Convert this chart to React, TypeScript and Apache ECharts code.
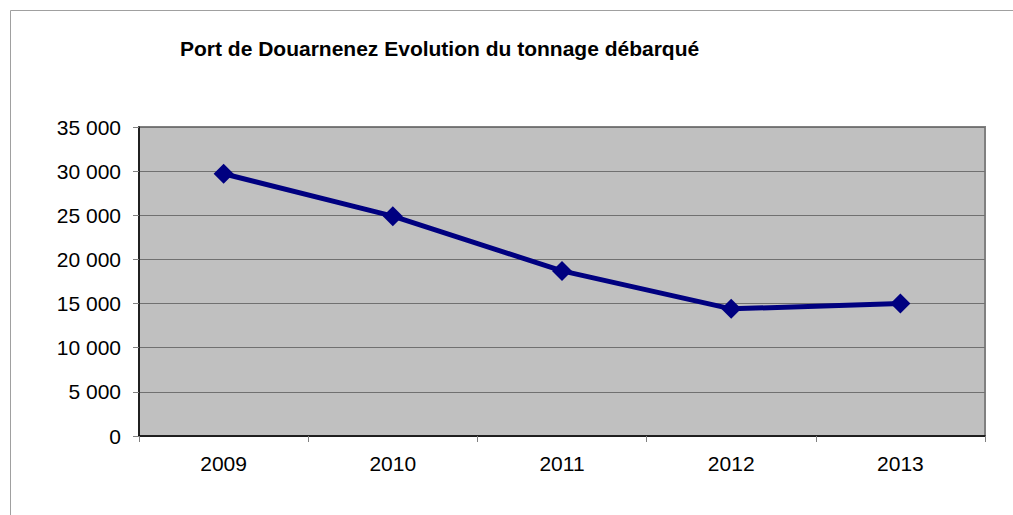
import React, { useEffect, useRef } from "react";
import * as echarts from "echarts";

const categories = ["2009", "2010", "2011", "2012", "2013"];
const tonnage = [29700, 24900, 18700, 14400, 15000];
const titleText = "Port de Douarnenez Evolution du tonnage débarqué";

const fmt = (v: number) => {
  if (v === 0) return "0";
  const s = String(v);
  return s.slice(0, s.length - 3) + " " + s.slice(s.length - 3);
};

export default function App() {
  const ref = useRef<HTMLDivElement>(null);
  useEffect(() => {
    if (!ref.current) return;
    const chart = echarts.init(ref.current, undefined, { renderer: "svg" });
    chart.setOption({
      animation: false,
      backgroundColor: "#ffffff",
      textStyle: { fontFamily: "Liberation Sans, Arial, sans-serif" },
      title: {
        text: titleText,
        left: 180,
        top: 38,
        padding: 0,
        textStyle: { fontSize: 21, fontWeight: "bold", color: "#000", fontFamily: "Liberation Sans, Arial, sans-serif" },
      },
      graphic: [
        { type: "line", shape: { x1: 10.5, y1: 10.5, x2: 1013, y2: 10.5 }, style: { stroke: "#a0a0a0", lineWidth: 1 } },
        { type: "line", shape: { x1: 10.5, y1: 10.5, x2: 10.5, y2: 515 }, style: { stroke: "#a0a0a0", lineWidth: 1 } },
      ],
      grid: {
        left: 139,
        top: 127,
        width: 846,
        height: 309,
        show: true,
        backgroundColor: "#c0c0c0",
        borderColor: "#808080",
        borderWidth: 2,
      },
      xAxis: {
        type: "category",
        data: categories,
        boundaryGap: true,
        axisLine: { lineStyle: { color: "#000", width: 1.5 } },
        axisTick: { show: true, length: 6, lineStyle: { color: "#808080" } },
        axisLabel: { fontSize: 21, color: "#000", margin: 17 },
      },
      yAxis: {
        type: "value",
        min: 0,
        max: 35000,
        interval: 5000,
        axisLine: { show: true, lineStyle: { color: "#000", width: 1.5 } },
        axisTick: { show: true, length: 6, lineStyle: { color: "#808080" } },
        axisLabel: { fontSize: 21, color: "#000", margin: 18, formatter: fmt },
        splitLine: { show: true, lineStyle: { color: "#707070", width: 1 } },
      },
      series: [
        {
          type: "line",
          data: tonnage,
          symbol: "diamond",
          symbolSize: 20,
          lineStyle: { color: "#000080", width: 5 },
          itemStyle: { color: "#000080" },
        },
      ],
    });
    return () => chart.dispose();
  }, []);
  return <div ref={ref} style={{ position: "fixed", left: 0, top: 0, width: 1013, height: 515 }} />;
}
